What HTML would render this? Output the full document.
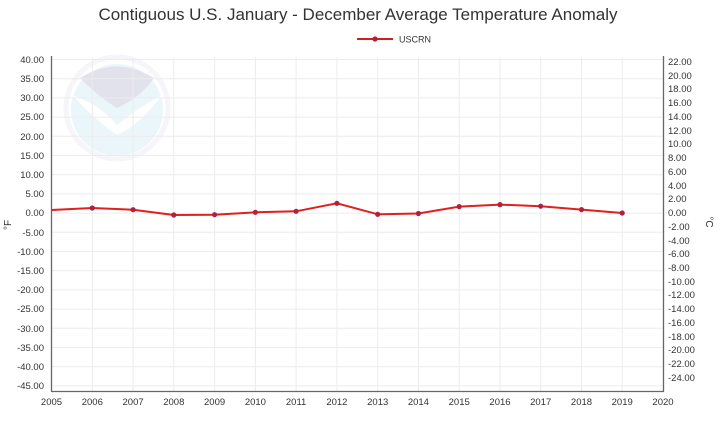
<!DOCTYPE html>
<html><head><meta charset="utf-8"><style>
body{margin:0;background:#fff;}
svg text{font-family:"Liberation Sans",sans-serif;}
</style></head><body>
<svg width="720" height="424" xmlns="http://www.w3.org/2000/svg">
<rect width="720" height="424" fill="#fff"/>
<text x="358" y="20" text-anchor="middle" font-size="17" fill="#333">Contiguous U.S. January - December Average Temperature Anomaly</text>
<line x1="357" y1="39" x2="393" y2="39" stroke="#d21f1f" stroke-width="2"/>
<circle cx="375" cy="39" r="2.6" fill="#b02040"/>
<text x="399" y="42.5" font-size="9" fill="#333">USCRN</text>
<!-- logo -->
<g opacity="0.28">
<circle cx="117" cy="108" r="51" fill="none" stroke="#dde" stroke-width="5"/>
<circle cx="117" cy="110" r="46" fill="#b8e0f4"/>
<path d="M80 78 Q117 55 154 78 Q140 98 117 108 Q100 98 80 78Z" fill="#9a9ac0"/>
<path d="M72 95 Q100 105 117 125 Q135 110 162 95 Q140 125 117 135 Q95 120 72 95Z" fill="#fff"/>
</g>
<g stroke="#ececec" stroke-width="1">
<line x1="52" y1="59.5" x2="663" y2="59.5"/><line x1="52" y1="78.7" x2="663" y2="78.7"/><line x1="52" y1="97.9" x2="663" y2="97.9"/><line x1="52" y1="117.1" x2="663" y2="117.1"/><line x1="52" y1="136.3" x2="663" y2="136.3"/><line x1="52" y1="155.5" x2="663" y2="155.5"/><line x1="52" y1="174.7" x2="663" y2="174.7"/><line x1="52" y1="193.9" x2="663" y2="193.9"/><line x1="52" y1="213.1" x2="663" y2="213.1"/><line x1="52" y1="232.3" x2="663" y2="232.3"/><line x1="52" y1="251.5" x2="663" y2="251.5"/><line x1="52" y1="270.7" x2="663" y2="270.7"/><line x1="52" y1="289.9" x2="663" y2="289.9"/><line x1="52" y1="309.1" x2="663" y2="309.1"/><line x1="52" y1="328.3" x2="663" y2="328.3"/><line x1="52" y1="347.5" x2="663" y2="347.5"/><line x1="52" y1="366.7" x2="663" y2="366.7"/><line x1="52" y1="385.9" x2="663" y2="385.9"/>
<line x1="92.3" y1="57" x2="92.3" y2="391"/><line x1="133.1" y1="57" x2="133.1" y2="391"/><line x1="173.8" y1="57" x2="173.8" y2="391"/><line x1="214.6" y1="57" x2="214.6" y2="391"/><line x1="255.4" y1="57" x2="255.4" y2="391"/><line x1="296.1" y1="57" x2="296.1" y2="391"/><line x1="336.9" y1="57" x2="336.9" y2="391"/><line x1="377.7" y1="57" x2="377.7" y2="391"/><line x1="418.4" y1="57" x2="418.4" y2="391"/><line x1="459.2" y1="57" x2="459.2" y2="391"/><line x1="500" y1="57" x2="500" y2="391"/><line x1="540.7" y1="57" x2="540.7" y2="391"/><line x1="581.5" y1="57" x2="581.5" y2="391"/><line x1="622.2" y1="57" x2="622.2" y2="391"/>
</g>
<line x1="51.5" y1="56" x2="51.5" y2="391.5" stroke="#666" stroke-width="1.3"/>
<line x1="663.5" y1="56" x2="663.5" y2="391.5" stroke="#666" stroke-width="1.3"/>
<line x1="51" y1="391.5" x2="664" y2="391.5" stroke="#666" stroke-width="1.3"/>
<g font-size="9.5" fill="#333" text-anchor="end">
<text x="44" y="63">40.00</text><text x="44" y="82">35.00</text><text x="44" y="101">30.00</text><text x="44" y="120">25.00</text><text x="44" y="140">20.00</text><text x="44" y="159">15.00</text><text x="44" y="178">10.00</text><text x="44" y="197">5.00</text><text x="44" y="216">0.00</text><text x="44" y="236">-5.00</text><text x="44" y="255">-10.00</text><text x="44" y="274">-15.00</text><text x="44" y="293">-20.00</text><text x="44" y="312">-25.00</text><text x="44" y="332">-30.00</text><text x="44" y="351">-35.00</text><text x="44" y="370">-40.00</text><text x="44" y="389">-45.00</text>
</g>
<g font-size="9.5" fill="#333">
<text x="668" y="65">22.00</text><text x="668" y="79">20.00</text><text x="668" y="92">18.00</text><text x="668" y="106">16.00</text><text x="668" y="120">14.00</text><text x="668" y="134">12.00</text><text x="668" y="147">10.00</text><text x="668" y="161">8.00</text><text x="668" y="175">6.00</text><text x="668" y="189">4.00</text><text x="668" y="202">2.00</text><text x="668" y="216">0.00</text><text x="668" y="230">-2.00</text><text x="668" y="244">-4.00</text><text x="668" y="257">-6.00</text><text x="668" y="271">-8.00</text><text x="668" y="285">-10.00</text><text x="668" y="298">-12.00</text><text x="668" y="312">-14.00</text><text x="668" y="326">-16.00</text><text x="668" y="340">-18.00</text><text x="668" y="353">-20.00</text><text x="668" y="367">-22.00</text><text x="668" y="381">-24.00</text>
</g>
<g font-size="9.5" fill="#333" text-anchor="middle">
<text x="51.5" y="405">2005</text><text x="92.3" y="405">2006</text><text x="133.1" y="405">2007</text><text x="173.8" y="405">2008</text><text x="214.6" y="405">2009</text><text x="255.4" y="405">2010</text><text x="296.1" y="405">2011</text><text x="336.9" y="405">2012</text><text x="377.7" y="405">2013</text><text x="418.4" y="405">2014</text><text x="459.2" y="405">2015</text><text x="500" y="405">2016</text><text x="540.7" y="405">2017</text><text x="581.5" y="405">2018</text><text x="622.2" y="405">2019</text><text x="663" y="405">2020</text>
</g>
<text transform="translate(11,225) rotate(-90)" font-size="10" fill="#333" text-anchor="middle">°F</text>
<text transform="translate(706,222) rotate(90)" font-size="10" fill="#333" text-anchor="middle">°C</text>
<polyline fill="none" stroke="#e0201e" stroke-width="2" points="51.5,210 92.3,208 133.1,209.7 173.8,215 214.6,214.7 255.4,212.3 296.1,211.3 336.9,203.3 377.7,214.3 418.4,213.5 459.2,206.6 500,204.6 540.7,206.2 581.5,209.6 622.2,213"/>
<g fill="#b02040">
<circle cx="92.3" cy="208" r="2.6"/><circle cx="133.1" cy="209.7" r="2.6"/><circle cx="173.8" cy="215" r="2.6"/><circle cx="214.6" cy="214.7" r="2.6"/><circle cx="255.4" cy="212.3" r="2.6"/><circle cx="296.1" cy="211.3" r="2.6"/><circle cx="336.9" cy="203.3" r="2.6"/><circle cx="377.7" cy="214.3" r="2.6"/><circle cx="418.4" cy="213.5" r="2.6"/><circle cx="459.2" cy="206.6" r="2.6"/><circle cx="500" cy="204.6" r="2.6"/><circle cx="540.7" cy="206.2" r="2.6"/><circle cx="581.5" cy="209.6" r="2.6"/><circle cx="622.2" cy="213" r="2.6"/>
</g>
</svg>
</body></html>
